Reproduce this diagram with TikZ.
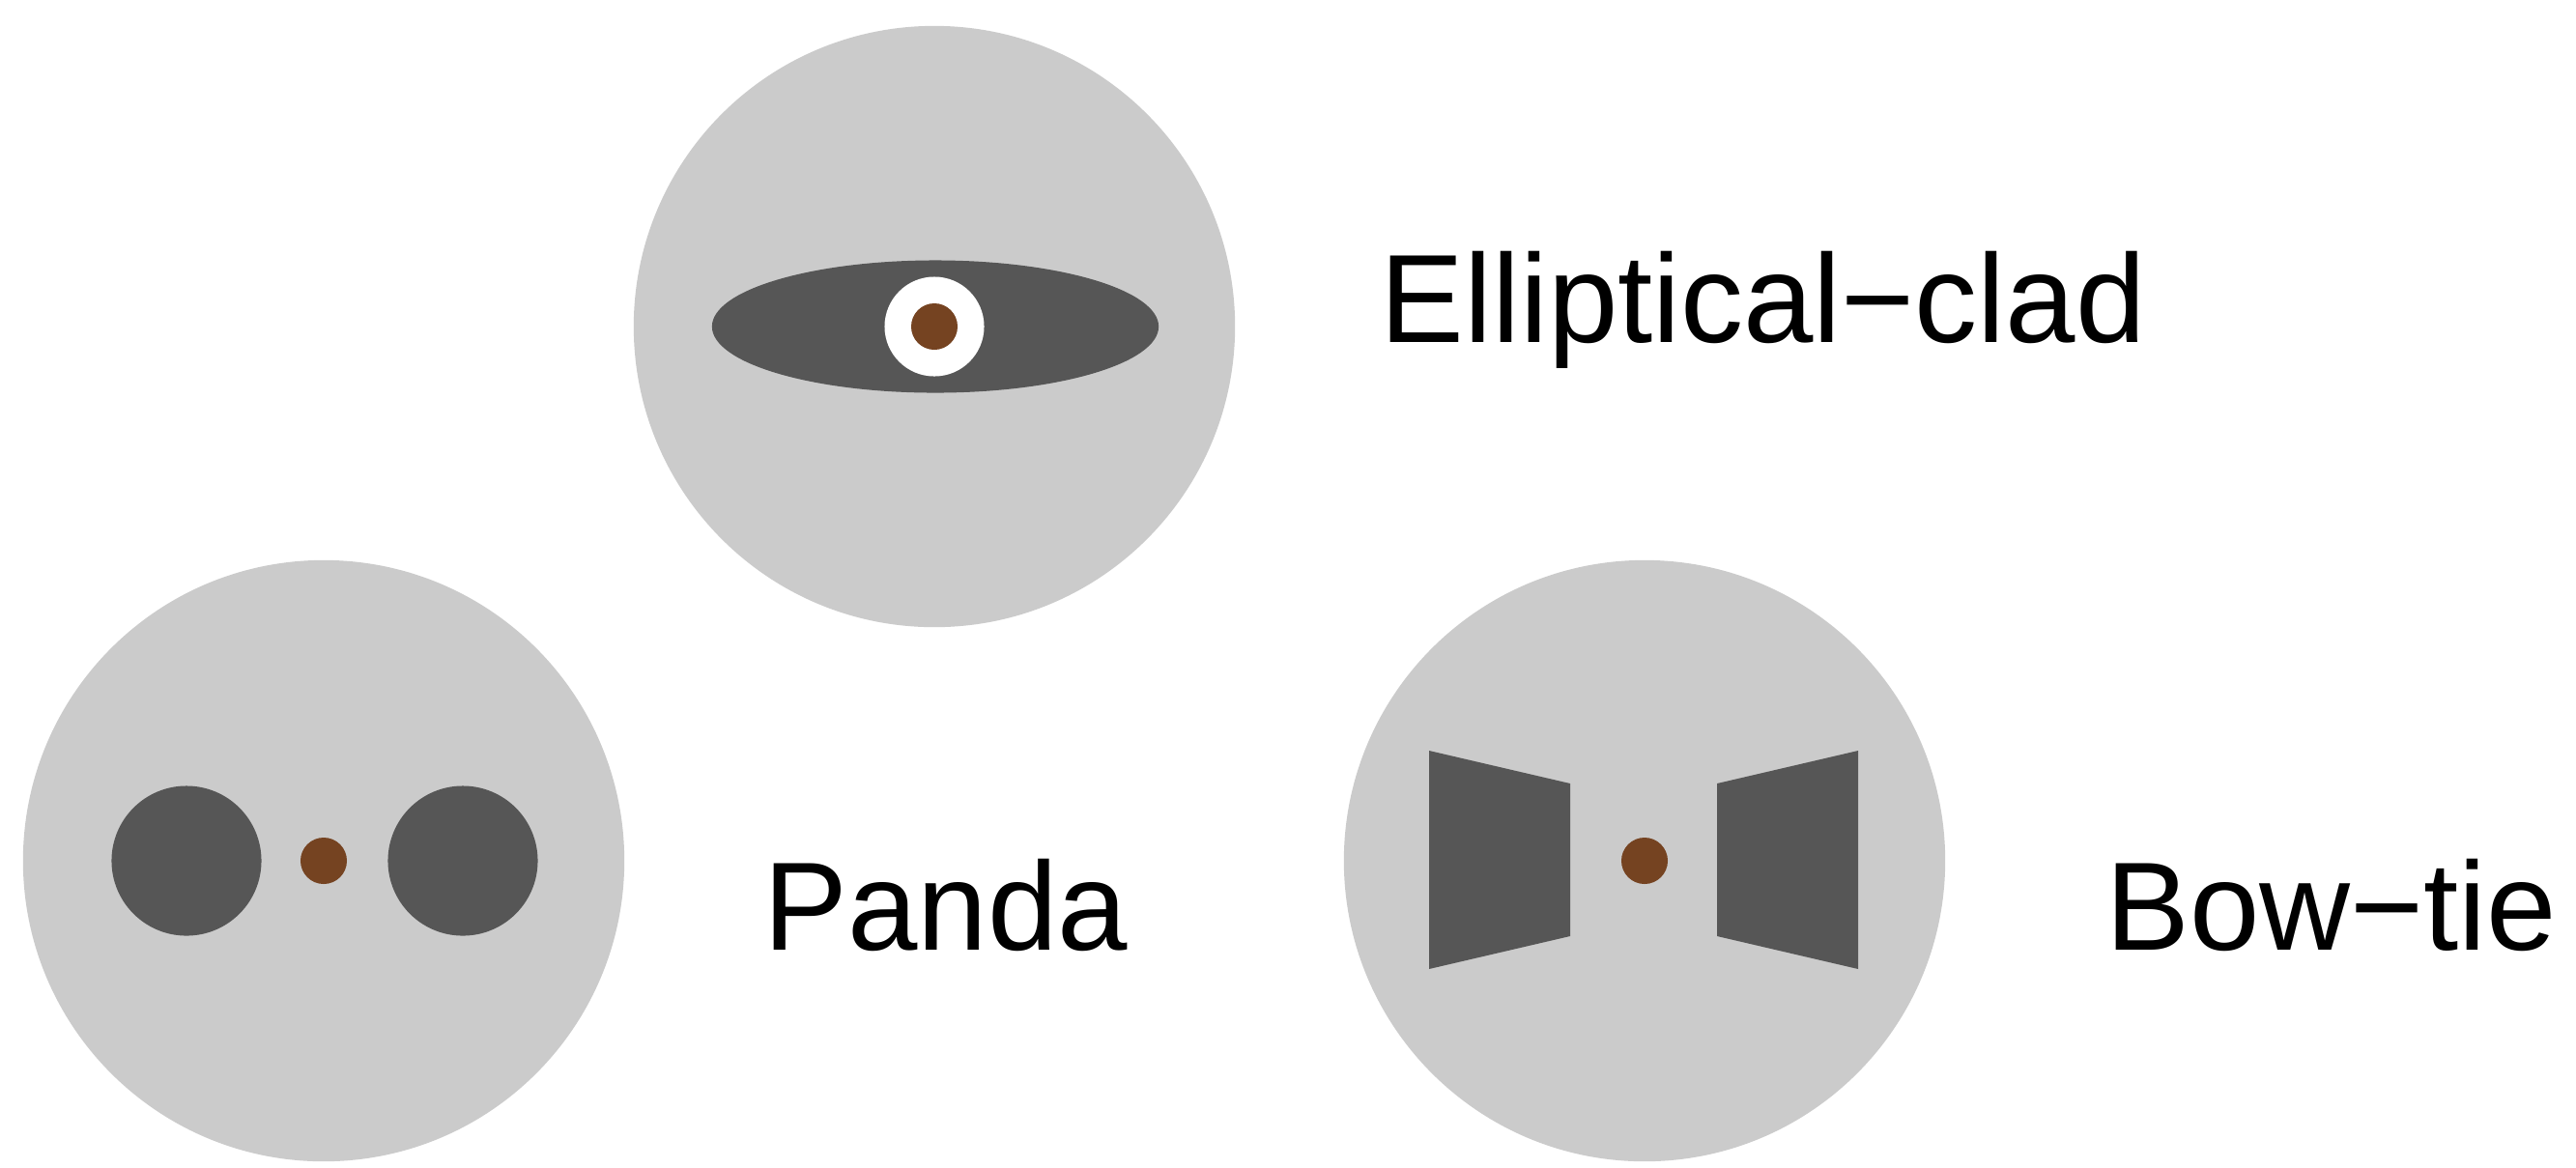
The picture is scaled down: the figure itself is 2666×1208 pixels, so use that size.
\documentclass[tikz,border=0pt]{standalone}
\usepackage{fontspec}
\setmainfont{Liberation Sans}
\usetikzlibrary{positioning,shapes.geometric}

\begin{document}
\begin{tikzpicture}[
    x=0.01cm, y=-0.01cm,
    fiber/.style={circle, fill=cladgray, minimum size=6.22cm, inner sep=0pt},
    core/.style={circle, fill=corebrown, minimum size=0.48cm, inner sep=0pt},
    stress/.style={fill=stressgray},
    rod/.style={circle, stress, minimum size=1.55cm, inner sep=0pt},
    lbl/.style={anchor=base west, inner sep=0pt, font=\fontsize{37pt}{42pt}\selectfont},
  ]
  \definecolor{cladgray}{HTML}{CBCBCB}
  \definecolor{stressgray}{HTML}{565656}
  \definecolor{corebrown}{HTML}{754321}

  \useasboundingbox (0,0) rectangle (2666,1208);

  % --- Elliptical-clad ----------------------------------------------------
  \node[fiber] (efiber) at (967,338) {};
  \node[ellipse, stress, minimum width=4.62cm, minimum height=1.37cm, inner sep=0pt]
    (eclad) at (968,338) {};
  \node[circle, fill=white, minimum size=1.03cm, inner sep=0pt] (ering) at (967,338) {};
  \node[core] (ecore) at (967,338) {};
  \node[lbl] (elabel) at (1428,354) {Elliptical−clad};

  % --- Panda --------------------------------------------------------------
  \node[fiber] (pfiber) at (335,891) {};
  \node[rod] (prodl) at (193,891) {};
  \node[rod] (prodr) at (479,891) {};
  \node[core] (pcore) at (335,891) {};
  \node[lbl] (plabel) at (790,983) {Panda};

  % --- Bow-tie ------------------------------------------------------------
  \node[fiber] (bfiber) at (1702,891) {};
  \fill[stress] (1479,777) -- (1625,811) -- (1625,969) -- (1479,1003) -- cycle;
  \fill[stress] (1923,777) -- (1777,811) -- (1777,969) -- (1923,1003) -- cycle;
  \node[core] (bcore) at (1702,891) {};
  \node[lbl] (blabel) at (2179,983) {Bow−tie};

\end{tikzpicture}
\end{document}
